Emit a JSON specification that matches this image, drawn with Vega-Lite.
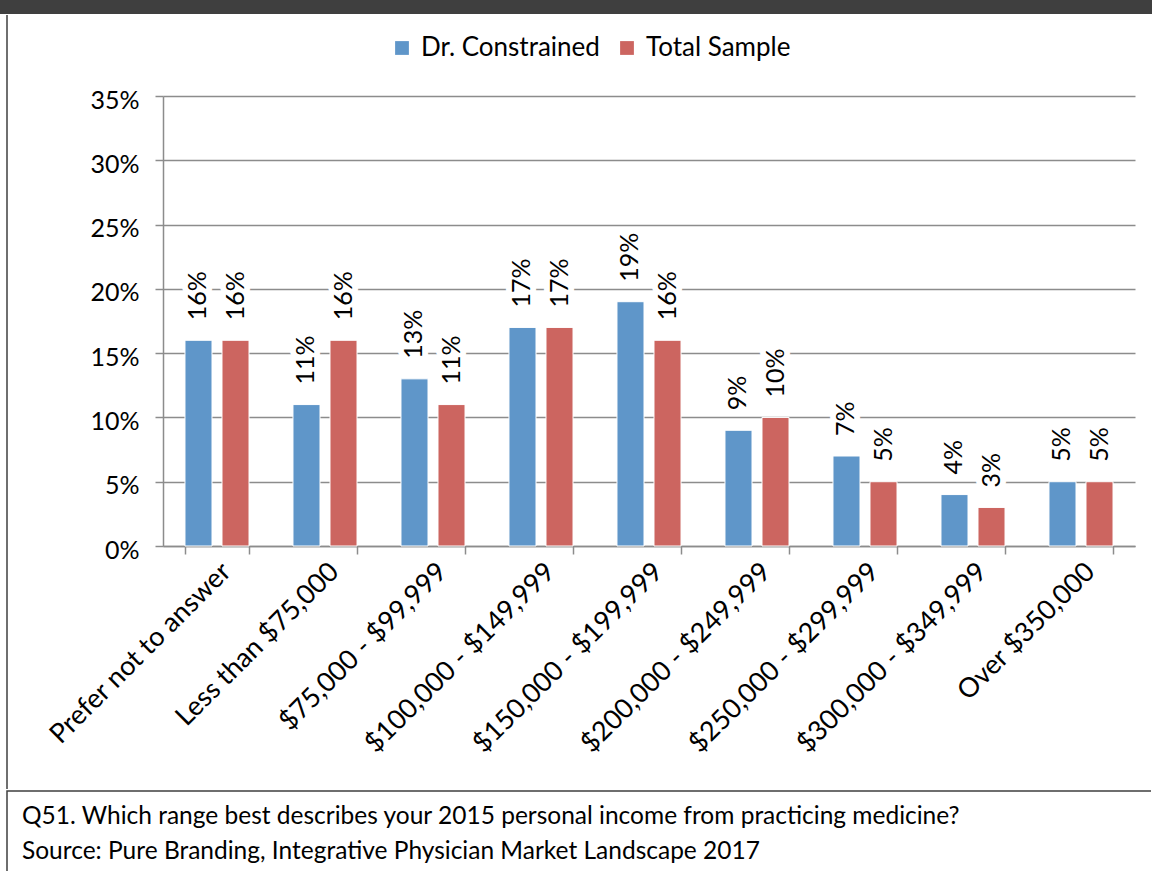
{
  "$schema": "https://vega.github.io/schema/vega-lite/v6.json",
  "padding": 0,
  "spacing": 0,
  "bounds": "full",
  "align": "none",
  "resolve": {"legend": {"color": "independent"}, "scale": {"color": "independent"}},
  "config": {"font": "Lato", "view": {"stroke": null}},
  "datasets": {
    "income": [
      {"category": "Prefer not to answer", "series": "Dr. Constrained", "value": 0.16},
      {"category": "Prefer not to answer", "series": "Total Sample", "value": 0.16},
      {"category": "Less than $75,000", "series": "Dr. Constrained", "value": 0.11},
      {"category": "Less than $75,000", "series": "Total Sample", "value": 0.16},
      {"category": "$75,000 - $99,999", "series": "Dr. Constrained", "value": 0.13},
      {"category": "$75,000 - $99,999", "series": "Total Sample", "value": 0.11},
      {"category": "$100,000 - $149,999", "series": "Dr. Constrained", "value": 0.17},
      {"category": "$100,000 - $149,999", "series": "Total Sample", "value": 0.17},
      {"category": "$150,000 - $199,999", "series": "Dr. Constrained", "value": 0.19},
      {"category": "$150,000 - $199,999", "series": "Total Sample", "value": 0.16},
      {"category": "$200,000 - $249,999", "series": "Dr. Constrained", "value": 0.09},
      {"category": "$200,000 - $249,999", "series": "Total Sample", "value": 0.10},
      {"category": "$250,000 - $299,999", "series": "Dr. Constrained", "value": 0.07},
      {"category": "$250,000 - $299,999", "series": "Total Sample", "value": 0.05},
      {"category": "$300,000 - $349,999", "series": "Dr. Constrained", "value": 0.04},
      {"category": "$300,000 - $349,999", "series": "Total Sample", "value": 0.03},
      {"category": "Over $350,000", "series": "Dr. Constrained", "value": 0.05},
      {"category": "Over $350,000", "series": "Total Sample", "value": 0.05}
    ]
  },
  "vconcat": [
    {
      "width": 1152,
      "height": 14,
      "data": {"values": []},
      "mark": "rect",
      "encoding": {},
      "view": {"fill": "#3f3f3f", "stroke": null}
    },
    {
      "spacing": -776,
      "bounds": "full",
      "align": "none",
      "resolve": {"legend": {"color": "independent"}, "scale": {"color": "independent"}},
      "vconcat": [
        {
          "spacing": 0,
          "bounds": "full",
          "resolve": {"legend": {"color": "independent"}, "scale": {"color": "independent"}},
          "hconcat": [
            {
              "width": 1,
              "height": 1,
              "data": {"values": []},
              "mark": "rect",
              "encoding": {},
              "view": {"stroke": null}
            },
            {
              "width": 972,
              "height": 450,
              "data": {"name": "income"},
              "encoding": {
                "x": {
                  "field": "category",
                  "type": "nominal",
                  "sort": null,
                  "scale": {"paddingInner": 0.407, "paddingOuter": 0.2035},
                  "axis": {
                    "tickBand": "extent",
                    "labelAngle": -45,
                    "labelFontSize": 27,
                    "labelLimit": 500,
                    "labelColor": "#000000",
                    "labelPadding": 4,
                    "tickSize": 8,
                    "tickColor": "#8c8c8c",
                    "tickWidth": 1.5,
                    "domainColor": "#8c8c8c",
                    "domainWidth": 1.5,
                    "grid": false,
                    "title": " ",
                    "titleFontSize": 1,
                    "titleX": 0,
                    "titleY": 244,
                    "titleAngle": 0,
                    "titleAlign": "left",
                    "titleBaseline": "bottom"
                  }
                },
                "xOffset": {
                  "field": "series",
                  "type": "nominal",
                  "sort": ["Dr. Constrained", "Total Sample"],
                  "scale": {"paddingInner": 0.27}
                },
                "y": {
                  "field": "value",
                  "type": "quantitative",
                  "scale": {"domain": [0, 0.35], "nice": false},
                  "axis": {
                    "values": [0, 0.05, 0.1, 0.15, 0.2, 0.25, 0.3, 0.35],
                    "format": ".0%",
                    "labelFontSize": 25,
                    "labelColor": "#000000",
                    "labelPadding": 16,
                    "labelOffset": 4,
                    "tickSize": 8,
                    "tickColor": "#8c8c8c",
                    "tickWidth": 1.5,
                    "domainColor": "#8c8c8c",
                    "domainWidth": 1.5,
                    "gridColor": "#8c8c8c",
                    "gridWidth": 1.5,
                    "title": " ",
                    "titleFontSize": 1,
                    "titleX": -162,
                    "titleY": -82,
                    "titleAngle": 0,
                    "titleAlign": "left",
                    "titleBaseline": "top"
                  }
                }
              },
              "layer": [
                {
                  "mark": {"type": "bar", "stroke": "#ffffff", "strokeWidth": 1},
                  "encoding": {
                    "color": {
                      "field": "series",
                      "type": "nominal",
                      "sort": ["Dr. Constrained", "Total Sample"],
                      "scale": {"range": ["#5f96c9", "#cc6560"]},
                      "legend": {
                        "orient": "none",
                        "legendX": 226,
                        "legendY": -61,
                        "direction": "horizontal",
                        "title": null,
                        "symbolType": "square",
                        "symbolSize": 190,
                        "symbolStrokeWidth": 0,
                        "labelFontSize": 26,
                        "labelLimit": 500,
                        "labelColor": "#000000",
                        "labelOffset": 6,
                        "columnPadding": 14
                      }
                    }
                  }
                },
                {
                  "mark": {"type": "text", "angle": 270, "align": "left", "baseline": "middle", "dx": 20, "fontSize": 25, "stroke": "#ffffff", "strokeWidth": 12, "strokeJoin": "round", "fill": "#ffffff"},
                  "encoding": {"text": {"field": "value", "type": "quantitative", "format": ".0%"}}
                },
                {
                  "mark": {"type": "text", "angle": 270, "align": "left", "baseline": "middle", "dx": 20, "fontSize": 25, "fill": "#000000"},
                  "encoding": {"text": {"field": "value", "type": "quantitative", "format": ".0%"}}
                }
              ]
            }
          ]
        },
        {
          "spacing": 0,
          "bounds": "full",
          "hconcat": [
            {
              "width": 6,
              "height": 1,
              "data": {"values": []},
              "mark": "rect",
              "encoding": {},
              "view": {"stroke": null}
            },
            {
              "width": 1144,
              "height": 774,
              "data": {"values": []},
              "mark": "rect",
              "encoding": {},
              "view": {"stroke": "#3f3f3f", "strokeWidth": 1.5, "strokeDash": [0, 3062, 774, 0]}
            }
          ]
        }
      ]
    },
    {
      "spacing": 0,
      "bounds": "full",
      "hconcat": [
        {
          "width": 6,
          "height": 1,
          "data": {"values": []},
          "mark": "rect",
          "encoding": {},
          "view": {"stroke": null}
        },
        {
          "width": 1144,
          "height": 80,
          "data": {"values": [
            {"line": 1, "text": "Q51. Which range best describes your 2015 personal income from practicing medicine?"},
            {"line": 2, "text": "Source: Pure Branding, Integrative Physician Market Landscape 2017"}
          ]},
          "mark": {"type": "text", "align": "left", "baseline": "middle", "fontSize": 24.5, "dx": 15, "fill": "#000000"},
          "encoding": {
            "x": {"datum": 0, "type": "quantitative", "scale": {"domain": [0, 1]}, "axis": null},
            "y": {
              "field": "line",
              "type": "ordinal",
              "scale": {"padding": 0.643, "align": 0.578},
              "axis": null
            },
            "text": {"field": "text", "type": "nominal"}
          },
          "view": {"stroke": "#3f3f3f", "strokeWidth": 1.5, "strokeDash": [1144, 1224, 80]}
        }
      ]
    }
  ]
}
